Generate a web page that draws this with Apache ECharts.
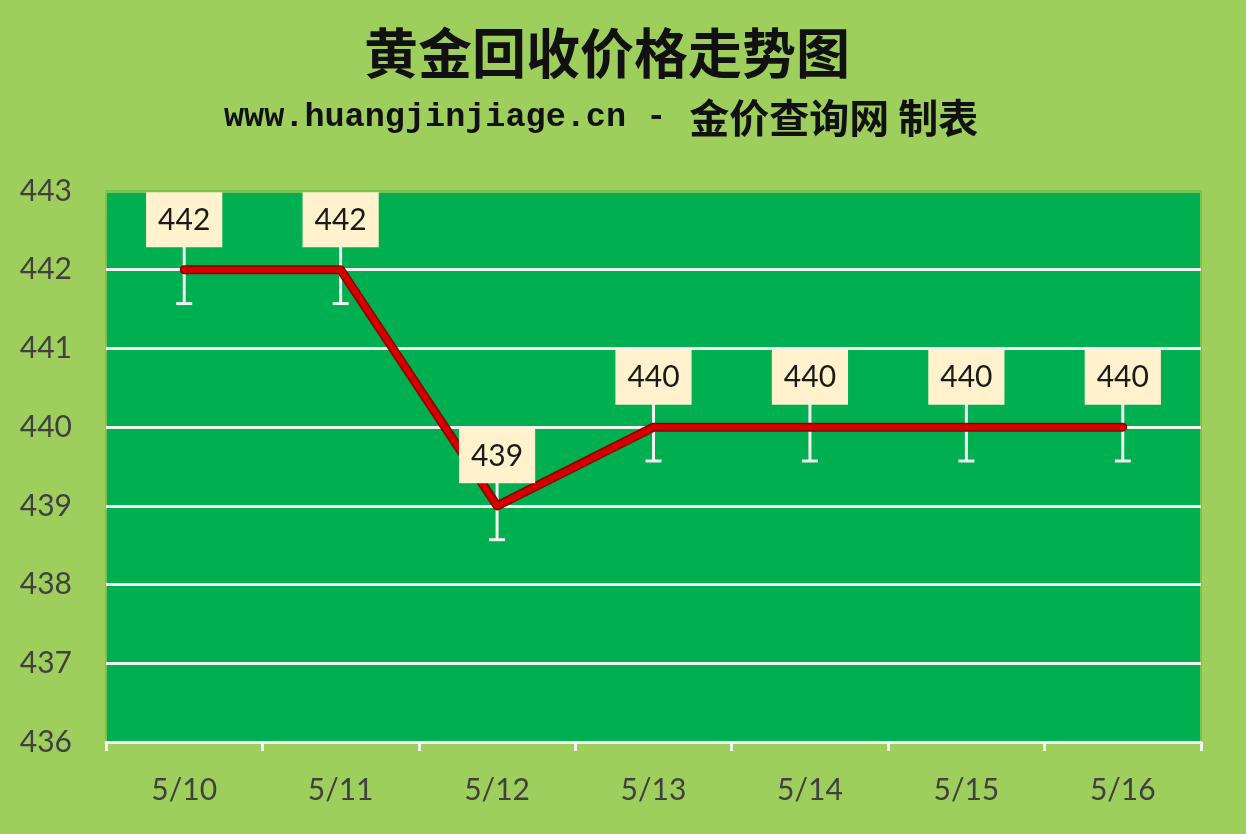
<!DOCTYPE html>
<html><head><meta charset="utf-8">
<script src="https://cdn.jsdelivr.net/npm/echarts@6/dist/echarts.min.js"></script>
<style>html,body{margin:0;padding:0;background:#9ECF5C}#c{width:1246px;height:834px}</style>
</head><body><div id="c"></div>
<script>
const categories = ['5/10','5/11','5/12','5/13','5/14','5/15','5/16'];
const prices = [442, 442, 439, 440, 440, 440, 440];
const errors = [0.43, 0.43, 0.43, 0.43, 0.43, 0.43, 0.43];
const titleText = '黄金回收价格走势图';
const subtitleLatin = 'www.huangjinjiage.cn - ';
const subtitleCJK = '金价查询网 制表';

const chart = echarts.init(document.getElementById('c'));
const lbl = "Lato, 'Open Sans', sans-serif";
chart.setOption({
  backgroundColor: '#9ECF5C',
  animation: false,
  title: [
    {text: titleText, left: 364, top: 26, padding: 0,
     textStyle: {fontFamily: "'Noto Sans CJK SC'", fontWeight: 'bold', fontSize: 54, color: '#111'}},
    {text: '{a|' + subtitleLatin + '}{s| }{b|' + subtitleCJK + '}', left: 224, top: 98, padding: 0,
     textStyle: {rich: {
       a: {fontFamily: "'Liberation Mono'", fontWeight: 'bold', fontSize: 33.5, color: '#111'},
       s: {fontSize: 10},
       b: {fontFamily: "'Noto Sans CJK SC'", fontWeight: 'bold', fontSize: 40, color: '#111'}
     }}}
  ],
  grid: {left: 106, right: 45, top: 191, bottom: 92, show: true,
         backgroundColor: '#00AF4F', borderColor: '#7CC250', borderWidth: 2},
  xAxis: {
    type: 'category', data: categories, boundaryGap: true,
    axisLine: {show: true, lineStyle: {color: '#F2F2F2', width: 3}},
    axisTick: {show: true, length: 9, lineStyle: {color: '#F2F2F2', width: 3}},
    axisLabel: {fontFamily: lbl, fontSize: 30, color: '#404040', margin: 33}
  },
  yAxis: {
    type: 'value', min: 436, max: 443, interval: 1,
    axisLine: {show: false}, axisTick: {show: false},
    axisLabel: {fontFamily: lbl, fontSize: 30, color: '#404040', margin: 34},
    splitLine: {show: true, lineStyle: {width: 3,
      color: ['#F2F2F2','#F2F2F2','#F2F2F2','#F2F2F2','#F2F2F2','#F2F2F2','#F2F2F2','#7CC250']}}
  },
  series: [
    {
      type: 'custom', z: 1,
      data: prices.map((v, i) => [i, v, errors[i]]),
      renderItem: function (params, api) {
        const i = api.value(0), v = api.value(1), e = api.value(2);
        const hi = api.coord([i, v + e]);
        const lo = api.coord([i, v - e]);
        const cap = 8;
        const st = {stroke: '#F2F2F2', lineWidth: 3};
        return {type: 'group', children: [
          {type: 'line', shape: {x1: hi[0], y1: hi[1], x2: lo[0], y2: lo[1]}, style: st},
          {type: 'line', shape: {x1: lo[0] - cap, y1: lo[1], x2: lo[0] + cap, y2: lo[1]}, style: st},
          {type: 'line', shape: {x1: hi[0] - cap, y1: hi[1], x2: hi[0] + cap, y2: hi[1]}, style: st}
        ]};
      }
    },
    {
      type: 'line', data: prices, z: 2, symbol: 'none', silent: true,
      lineStyle: {color: '#8E0000', width: 9, cap: 'round', join: 'round'}
    },
    {
      type: 'line', data: prices, z: 3,
      symbol: 'circle', symbolSize: 1, showSymbol: true,
      itemStyle: {color: '#D40000'},
      lineStyle: {color: '#D40000', width: 6, cap: 'round', join: 'round'},
      label: {
        show: true, position: 'top', distance: 22,
        fontFamily: lbl, fontSize: 30, color: '#1A1A1A',
        backgroundColor: '#FFF2CC', padding: [13, 12, 12, 12], lineHeight: 30
      }
    }
  ]
});
</script></body></html>
